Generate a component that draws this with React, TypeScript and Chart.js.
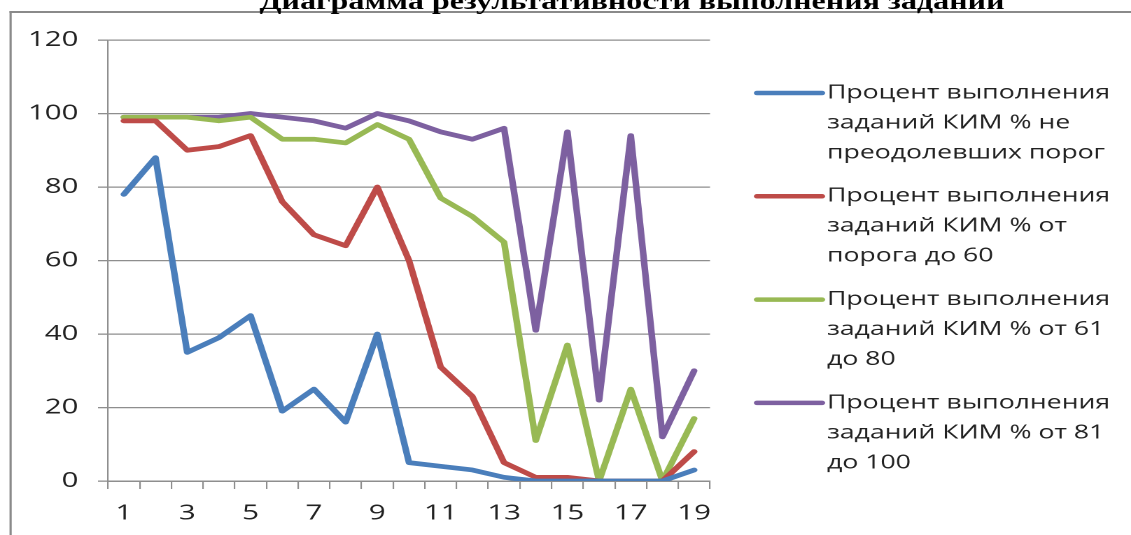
import React, { useEffect, useRef } from 'react';
import { Chart, registerables } from 'chart.js';

Chart.register(...registerables);

// ---------- data ----------
const chartTitle = 'Диаграмма результативности выполнения заданий';
const categories = ['1', '2', '3', '4', '5', '6', '7', '8', '9', '10', '11', '12', '13', '14', '15', '16', '17', '18', '19'];
const belowThreshold = [78, 88, 35, 39, 45, 19, 25, 16, 40, 5, 4, 3, 1, 0, 0, 0, 0, 0, 3];
const thresholdTo60 = [98, 98, 90, 91, 94, 76, 67, 64, 80, 60, 31, 23, 5, 1, 1, 0, 0, 0, 8];
const from61to80 = [99, 99, 99, 98, 99, 93, 93, 92, 97, 93, 77, 72, 65, 11, 37, 0, 25, 0, 17];
const from81to100 = [99, 99, 99, 99, 100, 99, 98, 96, 100, 98, 95, 93, 96, 41, 95, 22, 94, 12, 30];
const seriesLabels = [
  ['Процент выполнения', 'заданий КИМ % не', 'преодолевших порог'],
  ['Процент выполнения', 'заданий КИМ % от', 'порога до 60'],
  ['Процент выполнения', 'заданий КИМ % от 61', 'до 80'],
  ['Процент выполнения', 'заданий КИМ % от 81', 'до 100'],
];
const seriesColors = ['#4A7EBB', '#BE4B48', '#98B954', '#7D60A0'];
const yMin = 0;
const yMax = 120;
const yStep = 20;

// ---------- layout (canvas is drawn narrow and stretched horizontally) ----------
const PAGE_W = 1131;
const PAGE_H = 535;
const CANVAS_W = 808;
const SX = PAGE_W / CANVAS_W;
const px = (v: number) => v / SX; // convert page x-pixels to canvas units

const FONT = '"Open Sans", "DejaVu Sans", sans-serif';
const TEXT_COLOR = '#222222';
const GRID_COLOR = '#8e8e8e';

const decorPlugin = {
  id: 'decor',
  afterDraw(chart: any) {
    const ctx: CanvasRenderingContext2D = chart.ctx;
    ctx.save();

    // outer frame (left + top edges visible)
    ctx.strokeStyle = '#8a8a8a';
    ctx.fillStyle = '#8a8a8a';
    ctx.fillRect(px(9.5), 11, chart.width, 2);
    ctx.fillRect(px(9.5), 11, px(2.2), chart.height);

    // title (cut off at top)
    ctx.font = 'bold 24px "Liberation Serif", serif';
    const w = ctx.measureText(chartTitle).width;
    const target = px(745);
    ctx.save();
    ctx.translate(px(632), 9);
    ctx.scale(target / w, 1);
    ctx.fillStyle = '#000';
    ctx.textAlign = 'center';
    ctx.textBaseline = 'alphabetic';
    ctx.fillText(chartTitle, 0, 0);
    ctx.restore();

    // legend
    const lineX0 = px(757);
    const lineX1 = px(822);
    const textX = px(827);
    const firstRow = 93;
    const rowH = 30;
    const entryH = 103.3;
    ctx.font = `19px ${FONT}`;
    ctx.textAlign = 'left';
    ctx.textBaseline = 'middle';
    chart.data.datasets.forEach((ds: any, i: number) => {
      const y = firstRow + i * entryH;
      ctx.strokeStyle = ds.borderColor;
      ctx.lineWidth = 4.5;
      ctx.lineCap = 'round';
      ctx.beginPath();
      ctx.moveTo(lineX0, y);
      ctx.lineTo(lineX1, y);
      ctx.stroke();
      ctx.fillStyle = TEXT_COLOR;
      (ds.legendLines as string[]).forEach((t, j) => {
        ctx.fillText(t, textX, y + j * rowH);
      });
    });
    ctx.restore();
  },
};

export default function App() {
  const ref = useRef<HTMLCanvasElement | null>(null);

  useEffect(() => {
    if (!ref.current) return;
    const series = [belowThreshold, thresholdTo60, from61to80, from81to100];
    const chart = new Chart(ref.current, {
      type: 'line',
      data: {
        labels: categories,
        datasets: series.map((d, i) => ({
          label: seriesLabels[i].join(' '),
          legendLines: seriesLabels[i],
          data: d,
          borderColor: seriesColors[i],
          backgroundColor: seriesColors[i],
          borderWidth: 4.7,
          pointRadius: 0,
          pointHoverRadius: 0,
          tension: 0,
          borderJoinStyle: 'round',
          borderCapStyle: 'round',
          fill: false,
        })) as any,
      },
      options: {
        responsive: false,
        animation: false,
        devicePixelRatio: 2,
        events: [],
        layout: {
          padding: { left: 0, top: 40, right: CANVAS_W - px(710), bottom: 0 },
        },
        plugins: {
          legend: { display: false },
          title: { display: false },
          tooltip: { enabled: false },
        },
        scales: {
          x: {
            type: 'category',
            offset: true,
            grid: {
              offset: true,
              drawOnChartArea: false,
              drawTicks: true,
              tickLength: 8,
              color: GRID_COLOR,
              lineWidth: px(1.5),
            },
            border: { display: true, color: GRID_COLOR, width: 1.5 },
            ticks: {
              autoSkip: false,
              maxRotation: 0,
              padding: 12,
              color: TEXT_COLOR,
              font: { family: FONT, size: 21 },
              callback: (_v: any, i: number) => (i % 2 === 0 ? categories[i] : ''),
            },
            afterFit: (scale: any) => {
              scale.height = PAGE_H - 481;
            },
          },
          y: {
            min: yMin,
            max: yMax,
            ticks: {
              stepSize: yStep,
              padding: 14,
              color: TEXT_COLOR,
              font: { family: FONT, size: 21 },
            },
            grid: {
              color: GRID_COLOR,
              lineWidth: 1.3,
              drawTicks: true,
              tickLength: px(10),
            },
            border: { display: true, color: GRID_COLOR, width: px(1.5) },
            afterFit: (scale: any) => {
              scale.width = px(108);
            },
          },
        },
      },
      plugins: [decorPlugin],
    });
    return () => chart.destroy();
  }, []);

  return (
    <div style={{ position: 'fixed', left: 0, top: 0, width: PAGE_W, height: PAGE_H, background: '#fff', overflow: 'hidden' }}>
      <canvas
        ref={ref}
        width={CANVAS_W}
        height={PAGE_H}
        style={{ width: PAGE_W + 'px', height: PAGE_H + 'px', display: 'block' }}
      />
    </div>
  );
}
